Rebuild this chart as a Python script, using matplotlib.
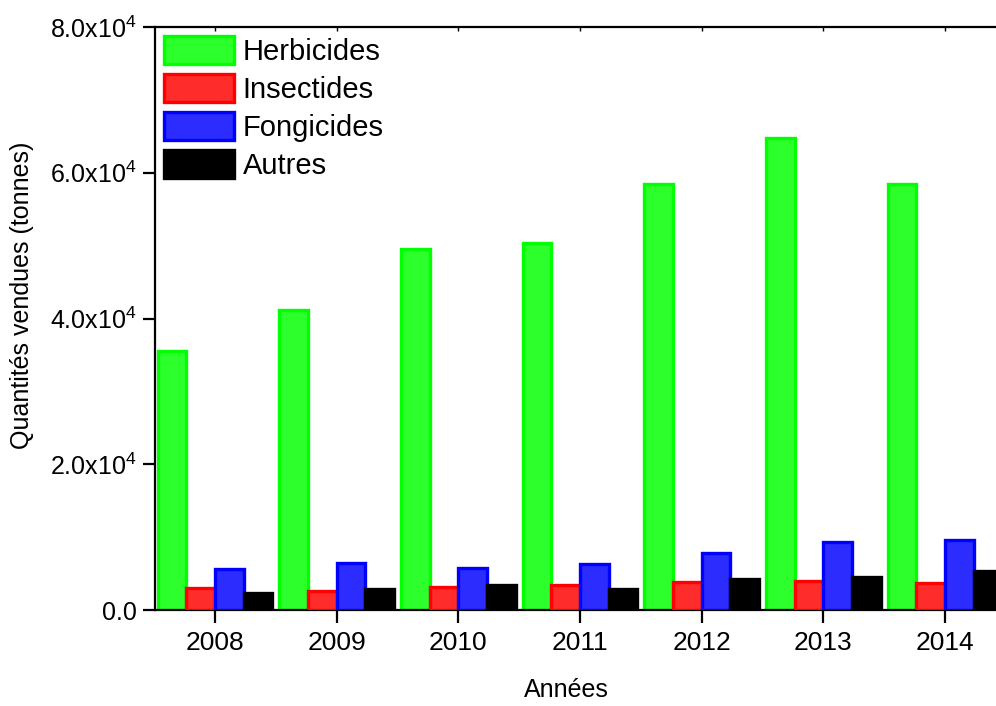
import matplotlib
matplotlib.use("Agg")
import matplotlib.pyplot as plt
import numpy as np

plt.rcParams['font.family'] = ['Liberation Sans', 'DejaVu Sans']
plt.rcParams['mathtext.default'] = 'regular'

years = [2008, 2009, 2010, 2011, 2012, 2013, 2014]
series_names = ["Herbicides", "Insectides", "Fongicides", "Autres"]
herbicides = [35500, 41200, 49500, 50400, 58400, 64700, 58500]
insectides = [3000, 2600, 3200, 3400, 3800, 4000, 3700]
fongicides = [5600, 6400, 5800, 6300, 7800, 9300, 9600]
autres = [2300, 2900, 3400, 2900, 4200, 4500, 5300]
edge_colors = ["#00ff00", "#ff0000", "#0000ff", "#000000"]
face_colors = ["#2cff2c", "#ff2c2c", "#2c2cff", "#000000"]
y_ticks = [0, 20000, 40000, 60000, 80000]
y_tick_labels = ["0.0", r"2.0x10$^4$", r"4.0x10$^4$", r"6.0x10$^4$", r"8.0x10$^4$"]

W, H = 996, 706
fig = plt.figure(figsize=(W / 100, H / 100), dpi=100)
ax = fig.add_axes([155 / W, 96 / H, 850 / W, 583 / H])

x = np.array(years, dtype=float)
pitch = 0.235
for i, vals in enumerate([herbicides, insectides, fongicides, autres]):
    ax.bar(x + (i - 1.5) * pitch, vals, width=0.235, facecolor=face_colors[i],
           edgecolor=edge_colors[i], linewidth=2.4, label=series_names[i], zorder=2 + i)

ax.set_xlim(2007.507, 2014.493)
ax.set_ylim(0, 80000)
ax.set_xticks(years)
ax.set_xticklabels([str(y) for y in years])
ax.set_yticks(y_ticks)
ax.set_yticklabels(y_tick_labels)

for s in ax.spines.values():
    s.set_linewidth(1.6)
ax.spines['right'].set_visible(False)

ax.tick_params(axis='both', which='major', direction='out', length=9, width=1.6)
ax.tick_params(axis='x', pad=6, labelsize=19)
ax.tick_params(axis='y', pad=4, labelsize=18)

top = ax.secondary_xaxis('top')
top.set_xticks(years)
top.tick_params(direction='in', length=3, width=1.0, labeltop=False)
top.spines['top'].set_visible(False)

ax.set_xlabel("Années", fontsize=18)
ax.xaxis.set_label_coords(566 / W, 1 - 678 / H, transform=fig.transFigure)
ax.set_ylabel("Quantités vendues (tonnes)", fontsize=18)
ax.yaxis.label.set_va('center')
ax.yaxis.set_label_coords(22 / W, 1 - 295 / H, transform=fig.transFigure)

leg = ax.legend(loc='upper left', frameon=False, fontsize=21, handlelength=2.4,
                handleheight=1.1, labelspacing=0.28, handletextpad=0.3,
                borderpad=0.1, borderaxespad=0.2)

fig.savefig("out.png", dpi=100)
